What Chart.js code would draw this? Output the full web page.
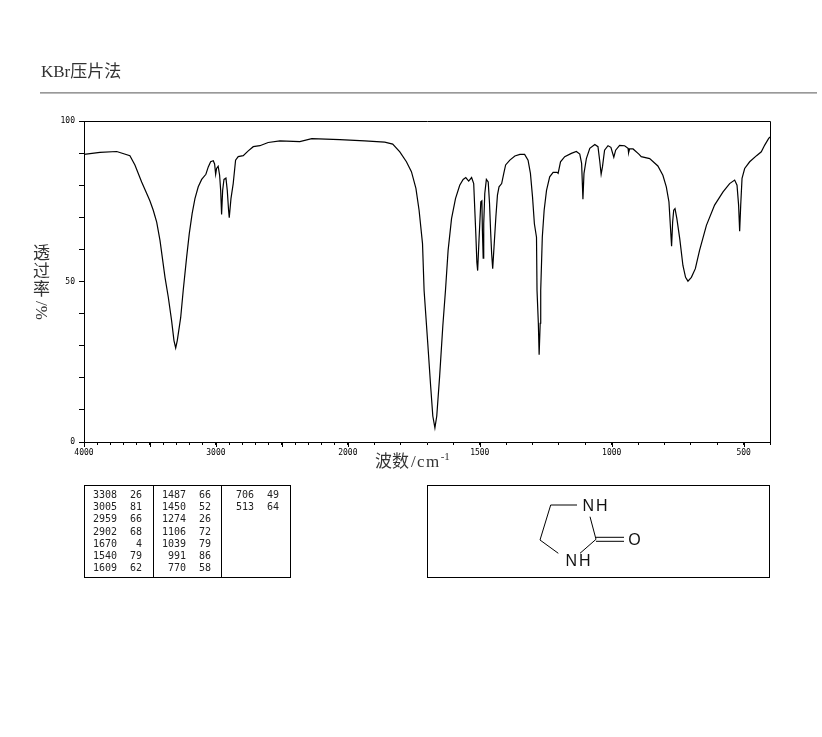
<!DOCTYPE html>
<html lang="zh">
<head>
    <meta charset="UTF-8">
    <title>KBr压片法</title>
    <script src="https://cdn.jsdelivr.net/npm/chart.js"></script>
    <style>
        html, body { margin: 0; padding: 0; background: #fff; }
        #wrap { position: relative; width: 822px; height: 737px; overflow: hidden; }
        #wrap > * { position: absolute; }
        canvas { left: 0; top: 0; }
        .cap { font-family: "Liberation Serif", "Noto Sans CJK SC", serif; color: #333; white-space: nowrap; }
        #title { left: 41px; top: 61px; font-size: 17px; line-height: 22px; }
        #rule { left: 40px; top: 92px; width: 777px; height: 1px; background: #999; border-bottom: 1px solid #bbb; }
        #ylab { left: 33px; top: 245px; font-size: 17px; line-height: 18px; text-align: center; }
        #ylab b { display: block; font-weight: normal; }
        #ylab em { display: block; font-style: normal; writing-mode: vertical-rl; margin: 2px auto 0; line-height: 17px; }
        #xlab { left: 375px; top: 451px; font-size: 17px; line-height: 22px; }
        #xlab span { letter-spacing: 1.4px; margin-left: 2px; }
        #xlab sup { font-size: 11px; line-height: 0; }
        #peaks, #mol { border: 1px solid #000; box-sizing: border-box; top: 485px; height: 93px; }
        #peaks { left: 84px; width: 207px; }
        #mol { left: 427px; width: 343px; }
        #peaks i { position: absolute; top: 0; width: 1px; height: 91px; background: #000; }
        #peaks span { position: absolute; font: 10px/12px "DejaVu Sans Mono", monospace; color: #222; }
    </style>
</head>
<body>
<div id="wrap">
    <canvas id="irChart" width="822" height="737"></canvas>
    <div id="title" class="cap">KBr压片法</div>
    <div id="rule"></div>
    <div id="ylab" class="cap"><b>透</b><b>过</b><b>率</b><em>/%</em></div>
    <div id="xlab" class="cap">波数<span>/cm</span><sup>-1</sup></div>
    <div id="peaks"></div>
    <div id="mol">
        <svg width="341" height="91" viewBox="428 486 341 91" style="display:block">
            <g stroke="#000" stroke-width="1" fill="none">
                <path d="M550.7 505H577M550.7 505L540 540L558.3 553.3M580 553.3L596 539.3L590 516.7M596 537.3H624M596 541.3H624"/>
            </g>
            <g font-family="Liberation Sans" font-size="16" fill="#111" text-anchor="middle">
                <text x="596" y="511" letter-spacing="2">NH</text>
                <text x="579" y="566" letter-spacing="2">NH</text>
                <text x="634.5" y="545">O</text>
            </g>
        </svg>
    </div>
</div>

<script>
    // spectrum
    const wavenumbers = [
        4000, 3879, 3752, 3652, 3614, 3563, 3513, 3500, 3475, 3449, 3424, 3386, 3361, 3336, 3318, 3305, 3293,
        3267, 3248, 3222, 3202, 3180, 3159, 3134, 3108, 3076, 3058, 3040, 3020, 3010, 3002, 2995, 2983,
        2972, 2964, 2957, 2949, 2939, 2924, 2914, 2904, 2899, 2886, 2869, 2851, 2831, 2793, 2755, 2717,
        2667, 2604, 2515, 2364, 2273, 2061, 1936, 1860, 1830, 1803, 1778, 1759, 1742, 1730, 1717, 1711,
        1697, 1686, 1678, 1670, 1663, 1652, 1640, 1630, 1620, 1607, 1592, 1576, 1563, 1553, 1542, 1531,
        1523, 1515, 1511, 1508, 1503, 1496, 1492, 1490, 1487, 1485, 1481, 1475, 1468, 1463, 1459, 1455,
        1451, 1446, 1439, 1433, 1427, 1417, 1409, 1402, 1386, 1367, 1348, 1330, 1317, 1308, 1300, 1293,
        1285, 1283, 1278, 1275, 1271, 1269, 1263, 1256, 1247, 1235, 1222, 1207, 1203, 1194, 1178, 1153,
        1134, 1121, 1114, 1109, 1105, 1096, 1083, 1064, 1052, 1045, 1040, 1035, 1027, 1014, 1003, 992,
        985, 970, 951, 938, 936, 932, 919, 897, 888, 856, 825, 806, 793, 783, 777, 773,
        769, 765, 760, 753, 742, 730, 720, 711, 698, 683, 667, 641, 610, 578, 553, 534,
        525, 519, 515, 511, 506, 496, 477, 451, 433, 420, 405, 400
    ];
    const transmittance = [
        89.6, 90.2, 90.5, 89.2, 86.3, 81, 76.3, 75.1, 72.2, 68.5, 62.8, 51.3, 45.1, 37.8, 31.6, 29.3, 31.6,
        38.8, 47.2, 57.6, 64.9, 71.2, 75.8, 79.5, 81.8, 83.4, 85.7, 87.3, 87.6, 86.6, 83.4, 85.2, 85.9,
        83.1, 78.4, 70.9, 78.4, 81.8, 82.2, 78.4, 72.2, 69.9, 75.8, 80.5, 87.8, 88.9, 89.2, 90.7, 92,
        92.3, 93.3, 93.8, 93.6, 94.5, 94.2, 93.8, 93.4, 92.8, 90.4, 87.3, 84.2, 79, 72.2, 61.8, 47.2,
        30.6, 17.2, 8.1, 4.4, 8.1, 20.6, 36.2, 47.2, 59.7, 69.6, 75.8, 80, 81.8, 82.4, 81.3, 82.4,
        80.5, 64.9, 56, 53.4, 62.8, 74.8, 75.1, 65.9, 57.3, 68, 77.4, 81.8, 81, 74.3, 65.9, 58.7,
        54, 60.7, 70.1, 76.9, 79.5, 80.5, 83.7, 86.3, 87.8, 89.1, 89.6, 89.6, 87.8, 83.7, 76.3, 68,
        63.8, 47.2, 37, 27.2, 37, 47.2, 63.8, 72.2, 78.4, 82.6, 84, 84, 83.7, 87.3, 88.9, 89.9,
        90.5, 89.7, 86.8, 75.6, 83.7, 88.3, 91.5, 92.7, 92, 87.3, 83.4, 85.7, 90.9, 92.3, 91.8, 88.7,
        90.9, 92.4, 92.3, 91.5, 90.1, 91.3, 91.3, 89.7, 88.9, 88.3, 86, 83.1, 79.5, 74.8, 66.5, 61,
        68.5, 72.2, 72.7, 69.6, 63.3, 55, 51.3, 50.1, 51.3, 54, 59.7, 67.5, 73.8, 77.9, 80.5, 81.6,
        80, 73.8, 65.7, 73.8, 82.1, 85.2, 87.3, 89.2, 90.4, 92.5, 94.6, 95
    ];

    // axis ticks
    const xLabelled = [4000, 3000, 2000, 1500, 1000, 500];
    const xLong = [4000, 3500, 3000, 2500, 2000, 1500, 1000, 500];
    const xTicks = [4000, 3900, 3800, 3700, 3600, 3500, 3400, 3300, 3200, 3100, 3000, 2900, 2800, 2700, 2600,
        2500, 2400, 2300, 2200, 2100, 2000, 1900, 1800, 1700, 1600, 1500, 1400, 1300, 1200, 1100, 1000,
        900, 800, 700, 600, 500, 400];
    const yLabelled = [100, 50, 0];

    // peak table
    const peakWave = [3308, 3005, 2959, 2902, 1670, 1540, 1609, 1487, 1450, 1274, 1106, 1039, 991, 770, 706, 513];
    const peakTrans = [26, 81, 66, 68, 4, 79, 62, 66, 52, 26, 72, 79, 86, 58, 49, 64];

    const peaksBox = document.getElementById('peaks');
    [69, 137].forEach(x => {
        const line = document.createElement('i');
        line.style.left = x - 1 + 'px';
        peaksBox.appendChild(line);
    });
    peakWave.forEach((w, i) => {
        const col = Math.floor(i / 7), row = i % 7;
        const top = 3 + row * 12.2;
        [[w, 32 + col * 69 - (col === 2 ? 1 : 0)], [peakTrans[i], 57 + col * 69 - (col === 2 ? 1 : 0)]].forEach(([val, right]) => {
            const s = document.createElement('span');
            s.textContent = val;
            s.style.top = top + 'px';
            s.style.right = (205 - right) + 'px';
            peaksBox.appendChild(s);
        });
    });

    // IR axis: the scale doubles below 2000 cm-1
    class FoldedScale extends Chart.LinearScale {
        getPixelForValue(value) {
            const f = value >= 2000 ? (4000 - value) / 2 : 1000 + (2000 - value);
            return this.left + f / 2600 * this.width;
        }
        getValueForPixel(pixel) {
            const f = (pixel - this.left) / this.width * 2600;
            return f <= 1000 ? 4000 - f * 2 : 2000 - (f - 1000);
        }
    }
    FoldedScale.id = 'folded';
    FoldedScale.defaults = Chart.LinearScale.defaults;
    Chart.register(FoldedScale);

    const frameAndLongTicks = {
        id: 'frameAndLongTicks',
        afterDraw(chart) {
            const { ctx, chartArea: a, scales } = chart;
            ctx.save();
            ctx.strokeStyle = '#000';
            ctx.lineWidth = 1;
            ctx.beginPath();
            ctx.moveTo(a.left + 0.5, a.top + 0.5);
            ctx.lineTo(a.right + 0.5, a.top + 0.5);
            ctx.lineTo(a.right + 0.5, a.bottom + 0.5);
            xLong.forEach(w => {
                const x = Math.round(scales.x.getPixelForValue(w)) + 0.5;
                ctx.moveTo(x, a.bottom);
                ctx.lineTo(x, a.bottom + 5);
            });
            ctx.stroke();
            ctx.restore();
        }
    };

    new Chart(document.getElementById('irChart'), {
        type: 'line',
        data: {
            datasets: [{
                data: wavenumbers.map((w, i) => ({ x: w, y: transmittance[i] })),
                borderColor: '#000',
                borderWidth: 1.2,
                pointRadius: 0,
                tension: 0,
                fill: false
            }]
        },
        plugins: [frameAndLongTicks],
        options: {
            responsive: false,
            animation: false,
            devicePixelRatio: 1,
            layout: { padding: { left: 44, right: 52, top: 121, bottom: 275 } },
            plugins: { legend: { display: false }, tooltip: { enabled: false } },
            scales: {
                x: {
                    type: 'folded',
                    min: 400,
                    max: 4000,
                    afterBuildTicks: scale => { scale.ticks = xTicks.map(v => ({ value: v })); },
                    afterFit: scale => { scale.height = 20; },
                    grid: { drawOnChartArea: false, tickLength: 3, color: '#000' },
                    border: { color: '#000' },
                    ticks: {
                        autoSkip: false,
                        maxRotation: 0,
                        padding: 3,
                        color: '#000',
                        font: { family: 'DejaVu Sans Mono', size: 8 },
                        callback: v => xLabelled.includes(v) ? String(v) : ''
                    }
                },
                y: {
                    min: 0,
                    max: 100,
                    afterFit: scale => { scale.width = 40; },
                    grid: { drawOnChartArea: false, tickLength: 5, color: '#000' },
                    border: { color: '#000' },
                    ticks: {
                        stepSize: 10,
                        padding: 4,
                        color: '#000',
                        font: { family: 'DejaVu Sans Mono', size: 8 },
                        callback: v => yLabelled.includes(v) ? String(v) : ''
                    }
                }
            }
        }
    });
</script>
</body>
</html>
